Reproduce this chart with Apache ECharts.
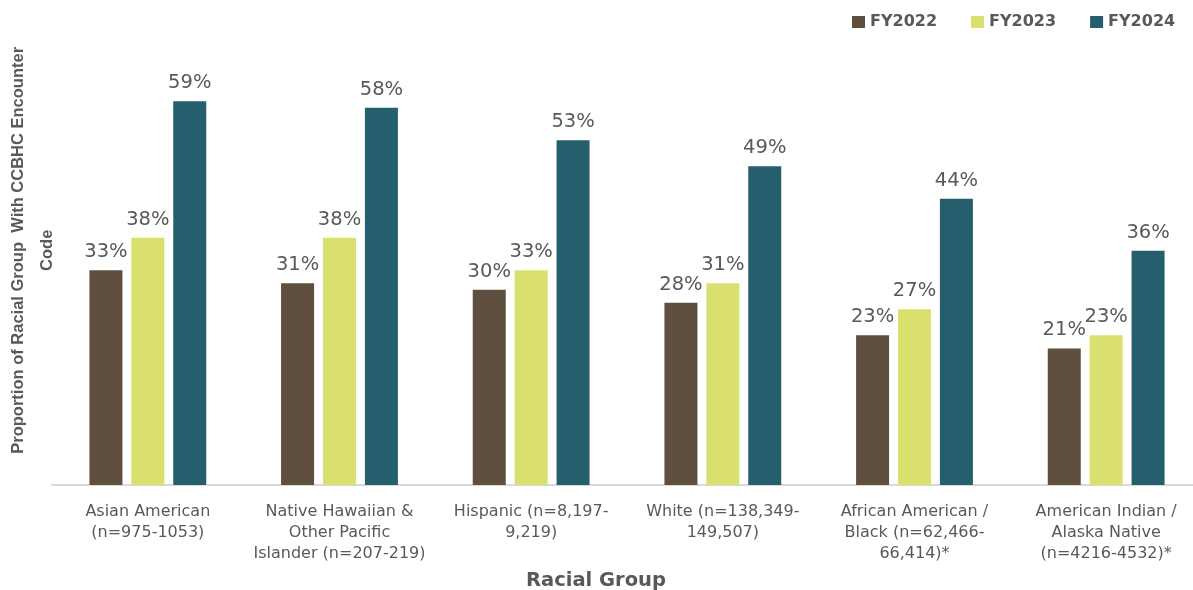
<!DOCTYPE html>
<html>
<head>
<meta charset="utf-8">
<style>
  html, body { margin: 0; padding: 0; background: #ffffff; }
  #chart { width: 1193px; height: 590px; }
</style>
<script src="https://cdn.jsdelivr.net/npm/echarts@6/dist/echarts.min.js"></script>
</head>
<body>
<div id="chart"></div>
<script>
// Racial groups with their sample-size ranges
const categories = [
  'Asian American\n(n=975-1053)',
  'Native Hawaiian &\nOther Pacific\nIslander (n=207-219)',
  'Hispanic (n=8,197-\n9,219)',
  'White (n=138,349-\n149,507)',
  'African American /\nBlack (n=62,466-\n66,414)*',
  'American Indian /\nAlaska Native\n(n=4216-4532)*'
];

// Percent of each group with a CCBHC encounter code, by fiscal year
const fy2022 = [33, 31, 30, 28, 23, 21];
const fy2023 = [38, 38, 33, 31, 27, 23];
const fy2024 = [59, 58, 53, 49, 44, 36];

const seriesNames = ['FY2022', 'FY2023', 'FY2024'];
const seriesColors = ['#5e4f3f', '#d9e06d', '#255f6d'];
const seriesData = [fy2022, fy2023, fy2024];

const textGray = '#595959';
const wideFont = '"DejaVu Sans", Verdana, sans-serif';
const narrowFont = '"Liberation Sans", Arial, sans-serif';

const chart = echarts.init(document.getElementById('chart'), null, { renderer: 'canvas' });

chart.setOption({
  animation: false,
  textStyle: { fontFamily: wideFont },
  legend: {
    left: 847,
    top: 9,
    itemWidth: 13,
    itemHeight: 12,
    itemGap: 34,
    icon: 'rect',
    textStyle: { color: textGray, fontSize: 16, fontWeight: 'bold', fontFamily: wideFont }
  },
  grid: {
    left: 52, right: -9, top: 29.6, bottom: 105,
    containLabel: false,
    outerBoundsMode: 'none'
  },
  xAxis: {
    type: 'category',
    data: categories,
    axisLine: { lineStyle: { color: '#d9d9d9', width: 2 } },
    axisTick: { show: false },
    axisLabel: {
      color: textGray,
      fontSize: 16,
      lineHeight: 21,
      margin: 16,
      interval: 0,
      fontFamily: wideFont
    },
    name: 'Racial Group',
    nameLocation: 'middle',
    nameGap: 86,
    nameTextStyle: {
      color: textGray, fontSize: 19.5, fontWeight: 'bold',
      padding: [0, 62, 0, 0], fontFamily: wideFont
    }
  },
  yAxis: {
    type: 'value',
    min: 0,
    max: 70,
    axisLine: { show: false },
    axisTick: { show: false },
    axisLabel: { show: false },
    splitLine: { show: false },
    name: 'Proportion of Racial Group  With CCBHC Encounter\nCode',
    nameLocation: 'middle',
    nameRotate: 90,
    nameGap: -10,
    nameTextStyle: {
      color: textGray, fontSize: 16.5, fontWeight: 'bold', lineHeight: 29,
      padding: [0, 0, 0, 14], fontFamily: narrowFont
    }
  },
  series: seriesNames.map((name, i) => ({
    name: name,
    type: 'bar',
    data: seriesData[i],
    barWidth: 33,
    barGap: '27%',
    itemStyle: { color: seriesColors[i] },
    label: {
      show: true,
      position: 'top',
      distance: 8,
      formatter: p => p.value + '%',
      color: textGray,
      fontSize: 19.5,
      fontFamily: wideFont
    }
  }))
});
</script>
</body>
</html>
